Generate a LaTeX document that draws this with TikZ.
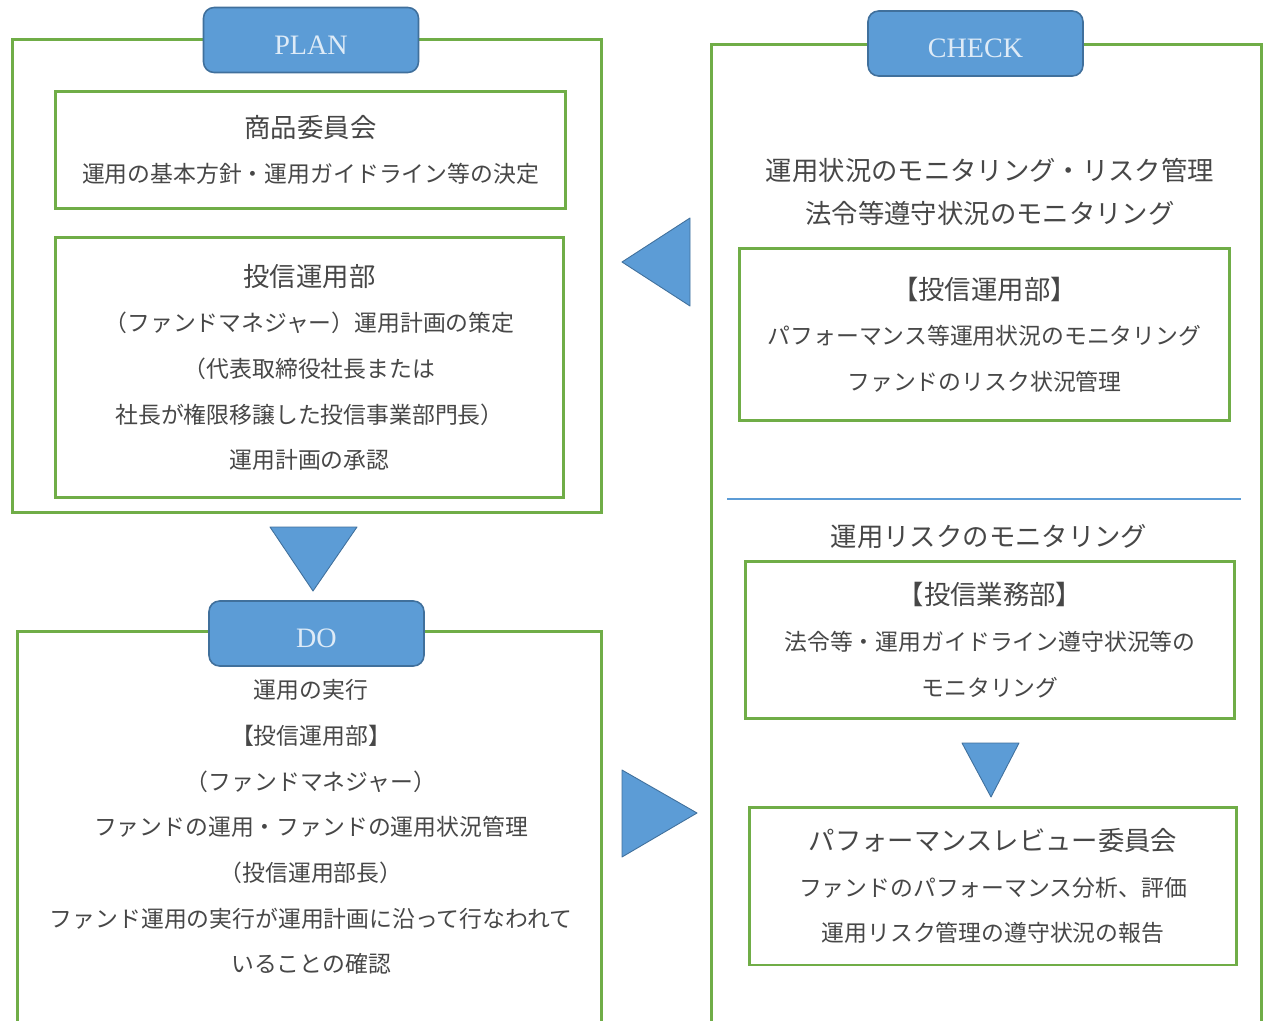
\documentclass[tikz,border=0pt]{standalone}
\usepackage{fontspec}
\setmainfont{Liberation Serif}
\newfontfamily\jp{Noto Sans CJK JP}
\usepackage{tikz}

\begin{document}
\begin{tikzpicture}[x=0.02cm,y=-0.02cm,
    outerbox/.style={draw=grn,line width=1.7pt,inner sep=0pt},
    inbox/.style={draw=grn,line width=1.7pt,inner sep=0pt,align=center,text=txtgray,
        font={\jp\fontsize{13}{26}\selectfont}},
    plain/.style={inner sep=0pt,align=center,text=txtgray,font={\jp\fontsize{13}{26}\selectfont}},
    phase/.style={draw=bluedk,fill=blufill,line width=0.9pt,rounded corners=6pt,
        minimum width=4.3cm,minimum height=1.3cm,text=bluetxt,text height=16pt,text depth=0pt,
        font={\fontsize{16}{18}\selectfont}},
    tri/.style={draw=bluedk,fill=blufill,line width=0.5pt,line join=round}]

    \definecolor{grn}{rgb}{0.44,0.68,0.28}
    \definecolor{blufill}{rgb}{0.36,0.61,0.84}
    \definecolor{bluedk}{rgb}{0.25,0.44,0.61}
    \definecolor{bluetxt}{rgb}{0.87,0.92,0.97}
    \definecolor{txtgray}{rgb}{0.28,0.28,0.28}
    \clip (0,0) rectangle (1265,1021);
    \fill[white] (0,0) rectangle (1265,1021);

    % PLAN
    \node[outerbox,minimum width=11.8cm,minimum height=9.48cm] (plan) at (307,276) {};
    \node[inbox,minimum width=10.22cm,minimum height=2.36cm] (shohin) at (310.5,150)
        {{\fontsize{15}{26}\selectfont 商品委員会}\\運用の基本方針・運用ガイドライン等の決定};
    \node[inbox,minimum width=10.18cm,minimum height=5.22cm] (unyo) at (309.5,367.5)
        {{\fontsize{15}{26}\selectfont 投信運用部}\\（ファンドマネジャー）運用計画の策定\\（代表取締役社長または\\社長が権限移譲した投信事業部門長）\\運用計画の承認};
    \node[phase] (planlbl) at (311,40) {PLAN};

    % DO
    \node[outerbox,minimum width=11.7cm,minimum height=8.18cm] (do) at (309.5,835.5) {};
    \node[plain] (dotxt) at (311,827)
        {運用の実行\\【投信運用部】\\（ファンドマネジャー）\\ファンドの運用・ファンドの運用状況管理\\（投信運用部長）\\ファンド運用の実行が運用計画に沿って行なわれて\\いることの確認};
    \node[phase] (dolbl) at (316.5,633.5) {DO};

    % CHECK
    \node[outerbox,minimum width=11.02cm,minimum height=19.92cm] (check) at (986.5,542) {};
    \node[plain,font={\jp\fontsize{15}{24.5}\selectfont}] (chktxt) at (990,191.5)
        {運用状況のモニタリング・リスク管理\\法令等遵守状況のモニタリング};
    \node[inbox,minimum width=9.82cm,minimum height=3.46cm] (chkunyo) at (984.5,334.5)
        {{\fontsize{15}{26}\selectfont 【投信運用部】}\\パフォーマンス等運用状況のモニタリング\\ファンドのリスク状況管理};
    \draw[blufill,line width=1.7pt] (727,499) -- (1241,499);
    \node[plain,font={\jp\fontsize{15}{24}\selectfont}] (risktxt) at (989,537) {運用リスクのモニタリング};
    \node[inbox,minimum width=9.8cm,minimum height=3.16cm] (gyomu) at (990,640)
        {{\fontsize{15}{26}\selectfont 【投信業務部】}\\法令等・運用ガイドライン遵守状況等の\\モニタリング};
    \node[inbox,minimum width=9.76cm,minimum height=3.16cm] (review) at (993,886)
        {{\fontsize{15}{26}\selectfont パフォーマンスレビュー委員会}\\ファンドのパフォーマンス分析、評価\\運用リスク管理の遵守状況の報告};
    \node[phase] (chklbl) at (975.5,43.5) {CHECK};

    % triangles
    \draw[tri] (270,527) -- (357,527) -- (313,591) -- cycle;
    \draw[tri] (690,218) -- (690,306) -- (622,262) -- cycle;
    \draw[tri] (622,770) -- (622,857) -- (697,813) -- cycle;
    \draw[tri] (962,743) -- (1019,743) -- (991,797) -- cycle;
\end{tikzpicture}
\end{document}
